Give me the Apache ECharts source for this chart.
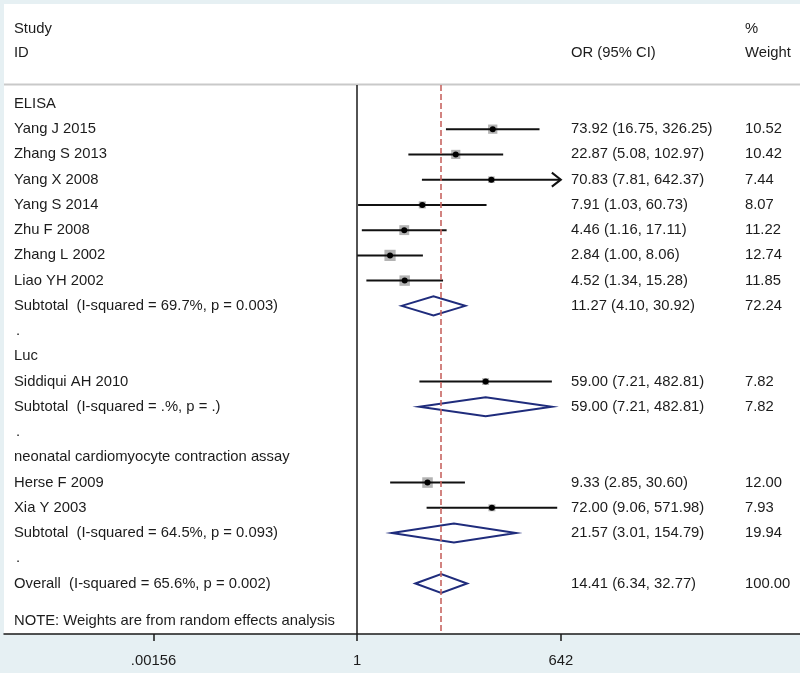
<!DOCTYPE html>
<html>
<head>
<meta charset="utf-8">
<script src="https://cdn.jsdelivr.net/npm/echarts@6/dist/echarts.min.js"></script>
<style>html,body{margin:0;padding:0;background:#e6f0f3;}#c{width:800px;height:673px;}</style>
</head>
<body>
<div id="c"></div>
<script>
// ---- data ----
const groupLabels = ['ELISA', 'Luc', 'neonatal cardiomyocyte contraction assay'];
const groupRows = [0, 10, 14];

const studyNames = ['Yang J 2015', 'Zhang S 2013', 'Yang X 2008', 'Yang S 2014', 'Zhu F 2008',
  'Zhang L 2002', 'Liao YH 2002', 'Siddiqui AH 2010', 'Herse F 2009', 'Xia Y 2003'];
const studyRows = [1, 2, 3, 4, 5, 6, 7, 11, 15, 16];
const studyOR = [73.92, 22.87, 70.83, 7.91, 4.46, 2.84, 4.52, 59.00, 9.33, 72.00];
const studyLo = [16.75, 5.08, 7.81, 1.03, 1.16, 1.00, 1.34, 7.21, 2.85, 9.06];
const studyHi = [326.25, 102.97, 642.37, 60.73, 17.11, 8.06, 15.28, 482.81, 30.60, 571.98];
const studyWeight = [10.52, 10.42, 7.44, 8.07, 11.22, 12.74, 11.85, 7.82, 12.00, 7.93];

const pooledLabels = ['Subtotal  (I-squared = 69.7%, p = 0.003)', 'Subtotal  (I-squared = .%, p = .)',
  'Subtotal  (I-squared = 64.5%, p = 0.093)', 'Overall  (I-squared = 65.6%, p = 0.002)'];
const pooledRows = [8, 12, 17, 19];
const pooledOR = [11.27, 59.00, 21.57, 14.41];
const pooledLo = [4.10, 7.21, 3.01, 6.34];
const pooledHi = [30.92, 482.81, 154.79, 32.77];
const pooledWeight = [72.24, 7.82, 19.94, 100.00];

const spacerRows = [9, 13, 18];
const noteText = 'NOTE: Weights are from random effects analysis';
const noteRow = 20.5;

const xTicks = [0.00156, 1, 642];
const xTickLabels = ['.00156', '1', '642'];
const clipMax = 642;

// ---- layout/styles ----
const FONT = '14.8px "Liberation Sans", Arial, sans-serif';
const TXT = '#1c1c1c';
const X_LABEL = 14, X_OR = 571, X_W = 745;

const fmt = v => v.toFixed(2);

const textRows = [];
groupLabels.forEach((t, i) => textRows.push([1, groupRows[i], t, X_LABEL]));
studyNames.forEach((t, i) => {
  textRows.push([1, studyRows[i], t, X_LABEL]);
  textRows.push([1, studyRows[i], fmt(studyOR[i]) + ' (' + fmt(studyLo[i]) + ', ' + fmt(studyHi[i]) + ')', X_OR]);
  textRows.push([1, studyRows[i], fmt(studyWeight[i]), X_W]);
});
pooledLabels.forEach((t, i) => {
  textRows.push([1, pooledRows[i], t, X_LABEL]);
  textRows.push([1, pooledRows[i], fmt(pooledOR[i]) + ' (' + fmt(pooledLo[i]) + ', ' + fmt(pooledHi[i]) + ')', X_OR]);
  textRows.push([1, pooledRows[i], fmt(pooledWeight[i]), X_W]);
});
spacerRows.forEach(r => textRows.push([1, r, '.', X_LABEL + 2]));
textRows.push([1, noteRow, noteText, X_LABEL]);

const studyData = studyNames.map((n, i) => [studyOR[i], studyRows[i], studyLo[i], studyHi[i], studyWeight[i]]);
const pooledData = pooledLabels.map((n, i) => [pooledOR[i], pooledRows[i], pooledLo[i], pooledHi[i]]);

const chart = echarts.init(document.getElementById('c'), null, {renderer: 'canvas'});

const option = {
  backgroundColor: '#e6f0f3',
  animation: false,
  graphic: [
    {type: 'rect', z: -10, shape: {x: 4, y: 4, width: 796, height: 630}, style: {fill: '#ffffff'}, silent: true},
    {type: 'line', z: 1, shape: {x1: 4, y1: 84.5, x2: 800, y2: 84.5}, style: {stroke: '#c9c9c9', lineWidth: 2}},
    {type: 'text', x: X_LABEL, y: 29, style: {text: 'Study', font: FONT, fill: TXT, verticalAlign: 'middle'}},
    {type: 'text', x: X_LABEL, y: 53, style: {text: 'ID', font: FONT, fill: TXT, verticalAlign: 'middle'}},
    {type: 'text', x: X_OR, y: 53, style: {text: 'OR (95% CI)', font: FONT, fill: TXT, verticalAlign: 'middle'}},
    {type: 'text', x: X_W, y: 29, style: {text: '%', font: FONT, fill: TXT, verticalAlign: 'middle'}},
    {type: 'text', x: X_W, y: 53, style: {text: 'Weight', font: FONT, fill: TXT, verticalAlign: 'middle'}}
  ],
  grid: {left: 4, right: 0, top: 85, bottom: 39, containLabel: false},
  xAxis: {
    type: 'log',
    min: 1.357e-5,
    max: 1.27e6,
    axisLine: {show: true, onZero: false, lineStyle: {color: '#1a1a1a', width: 1.5}},
    axisTick: {show: true, customValues: xTicks, length: 7, lineStyle: {color: '#1a1a1a', width: 1.5}},
    axisLabel: {
      show: true, customValues: xTicks, margin: 19,
      color: TXT, fontSize: 14.8, fontFamily: '"Liberation Sans", Arial, sans-serif',
      formatter: v => { const i = xTicks.findIndex(t => Math.abs(t - v) / t < 1e-6); return i >= 0 ? xTickLabels[i] : ''; }
    },
    splitLine: {show: false},
    minorTick: {show: false}
  },
  yAxis: {type: 'value', inverse: true, min: -0.75, max: 21, show: false},
  series: [
    {
      type: 'custom',
      name: 'refs',
      clip: false,
      data: [[1, 0]],
      encode: {x: 0, y: 1},
      z: 2,
      markLine: {
        silent: true, symbol: ['none', 'none'], label: {show: false},
        data: [
          {xAxis: 1, lineStyle: {color: '#1a1a1a', width: 1.5, type: 'solid'}},
          {xAxis: pooledOR[3], lineStyle: {color: '#c76561', width: 1.6, type: [6, 3]}}
        ]
      },
      renderItem: () => ({type: 'group', children: []})
    },
    {
      type: 'custom',
      name: 'studies',
      clip: false,
      z: 3,
      data: studyData,
      encode: {x: 0, y: 1},
      renderItem: (params, api) => {
        const or = api.value(0), row = api.value(1), lo = api.value(2), hi = api.value(3), w = api.value(4);
        const hiC = Math.min(hi, clipMax);
        const p0 = api.coord([lo, row]);
        const p1 = api.coord([hiC, row]);
        const pc = api.coord([or, row]);
        const s = w * 0.88;
        const ch = [
          {type: 'rect', shape: {x: pc[0] - s / 2, y: pc[1] - s / 2, width: s, height: s}, style: {fill: '#b3b3b3'}},
          {type: 'line', shape: {x1: p0[0], y1: p0[1], x2: p1[0], y2: p1[1]}, style: {stroke: '#111', lineWidth: 2}},
          {type: 'circle', shape: {cx: pc[0], cy: pc[1], r: 3}, style: {fill: '#000'}}
        ];
        if (hi > clipMax) {
          ch.push({type: 'polyline', shape: {points: [[p1[0] - 9, p1[1] - 7], [p1[0], p1[1]], [p1[0] - 9, p1[1] + 7]]},
            style: {stroke: '#111', lineWidth: 2, fill: null}});
        }
        return {type: 'group', children: ch};
      }
    },
    {
      type: 'custom',
      name: 'pooled',
      clip: false,
      z: 3,
      data: pooledData,
      encode: {x: 0, y: 1},
      renderItem: (params, api) => {
        const or = api.value(0), row = api.value(1), lo = api.value(2), hi = api.value(3);
        const a = api.coord([lo, row]), c = api.coord([or, row]), b = api.coord([hi, row]);
        const h = 9.5;
        return {type: 'polygon', shape: {points: [[a[0], a[1]], [c[0], c[1] - h], [b[0], b[1]], [c[0], c[1] + h]]},
          style: {stroke: '#1f2c7c', lineWidth: 2, fill: null}};
      }
    },
    {
      type: 'custom',
      name: 'text',
      clip: false,
      z: 4,
      data: textRows,
      encode: {x: 0, y: 1},
      renderItem: (params, api) => {
        const item = textRows[params.dataIndex];
        const p = api.coord([1, item[1]]);
        return {type: 'text', x: item[3], y: p[1], style: {text: item[2], font: FONT, fill: TXT, verticalAlign: 'middle', align: 'left'}};
      }
    }
  ]
};
chart.setOption(option);
</script>
</body>
</html>
